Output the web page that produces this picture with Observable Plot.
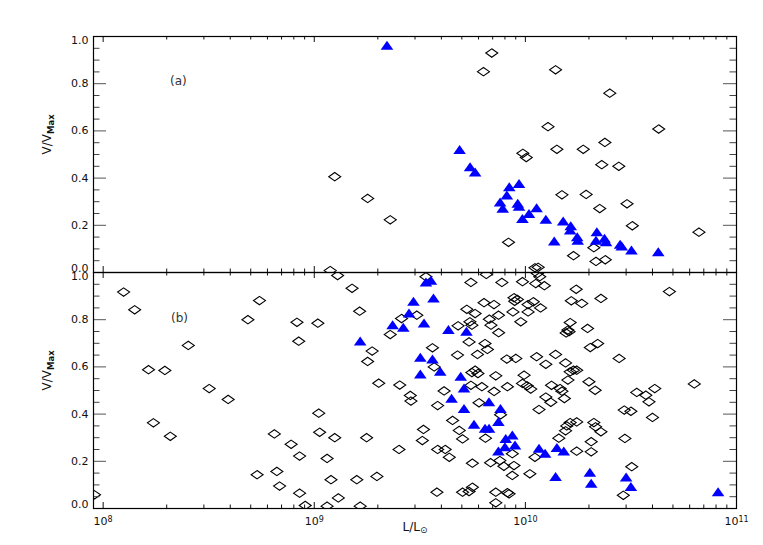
<!DOCTYPE html>
<html>
<head>
<meta charset="utf-8">
<script src="https://cdn.jsdelivr.net/npm/d3@7"></script>
<script src="https://cdn.jsdelivr.net/npm/@observablehq/plot@0.6"></script>
<style>
  html, body { margin: 0; padding: 0; background: #fff; }
  #chart { width: 763px; height: 545px; }
</style>
</head>
<body>
<div id="chart"></div>
<script>
// ---------- DATA ----------
const panels = ["a", "b"];
const panelLabelText = ["(a)", "(b)"];
const panelLabelL = [2.27e8, 2.30e8];
const panelLabelV = [0.81, 0.805];

// Panel (a): open diamonds
const aDiamondL = [1.25e9, 1.79e9, 2.29e9, 1.19e9, 6.93e9, 6.33e9, 8.32e9, 1.39e10, 2.51e10, 1.28e10,
  4.28e10, 2.38e10, 1.41e10, 1.88e10, 9.73e9, 1.01e10, 2.30e10, 2.77e10, 1.49e10, 1.94e10,
  3.03e10, 2.25e10, 3.21e10, 6.64e10, 2.11e10, 1.69e10, 2.16e10, 2.39e10, 1.11e10, 1.15e10];
const aDiamondV = [0.406, 0.314, 0.223, 0.008, 0.930, 0.851, 0.128, 0.859, 0.760, 0.618,
  0.608, 0.551, 0.522, 0.522, 0.505, 0.487, 0.457, 0.450, 0.329, 0.331,
  0.291, 0.271, 0.198, 0.171, 0.105, 0.071, 0.047, 0.054, 0.020, 0.022];

// Panel (a): filled triangles
const aTriangleL = [2.21e9, 4.88e9, 5.47e9, 5.78e9, 8.39e9, 9.33e9, 8.17e9, 7.59e9, 7.81e9, 9.20e9,
  9.33e9, 1.04e10, 9.68e9, 1.13e10, 1.25e10, 1.51e10, 1.64e10, 1.63e10, 1.76e10, 1.77e10,
  1.37e10, 2.18e10, 2.16e10, 2.37e10, 2.41e10, 2.81e10, 2.86e10, 3.18e10, 4.26e10];
const aTriangleV = [0.961, 0.519, 0.446, 0.424, 0.361, 0.375, 0.326, 0.297, 0.270, 0.291,
  0.279, 0.248, 0.227, 0.272, 0.223, 0.216, 0.196, 0.178, 0.149, 0.135,
  0.131, 0.171, 0.135, 0.143, 0.128, 0.118, 0.110, 0.093, 0.086];

// Panel (b): open diamonds
const bDiamondL = [
  9.1e7, 1.25e8, 1.41e8, 1.64e8, 1.96e8, 2.53e8, 3.18e8, 3.91e8, 1.73e8, 2.08e8,
  4.85e8, 5.50e8, 5.36e8, 6.47e8, 6.65e8, 6.85e8, 7.77e8, 8.52e8, 8.52e8, 8.28e8,
  8.44e8, 9.06e8, 1.04e9, 1.05e9, 1.06e9, 1.15e9, 1.15e9, 1.20e9, 1.25e9, 1.29e9,
  1.30e9, 1.51e9, 1.59e9, 1.64e9, 1.65e9, 1.77e9, 1.79e9, 1.88e9, 1.98e9, 2.02e9,
  3.38e9, 2.59e9, 3.06e9, 2.29e9, 4.80e9, 3.63e9, 4.77e9, 3.70e9, 2.54e9, 4.12e9,
  2.85e9, 2.87e9, 3.84e9, 4.52e9, 4.86e9, 5.04e9, 3.29e9, 3.25e9, 2.52e9, 3.84e9,
  4.17e9, 4.36e9, 3.81e9, 5.04e9,
  5.52e9, 7.74e9, 9.69e9, 1.12e10, 1.23e10, 1.14e10, 1.17e10, 6.53e9, 6.37e9, 7.10e9,
  8.83e9, 9.16e9, 8.90e9, 1.09e10, 1.03e10, 1.18e10, 5.28e9, 5.78e9, 7.46e9, 8.73e9,
  1.03e10, 5.46e9, 5.58e9, 6.75e9, 6.87e9, 7.47e9, 9.51e9, 5.41e9, 6.44e9, 5.93e9,
  6.61e9, 8.17e9, 9.01e9, 1.13e10, 1.25e10, 1.39e10, 5.78e9, 5.96e9, 5.58e9, 7.24e9,
  9.86e9, 5.52e9, 6.22e9, 8.22e9, 9.69e9, 1.02e10, 1.06e10, 1.33e10, 7.11e9, 1.25e10,
  1.32e10, 1.16e10, 6.03e9, 7.63e9, 6.47e9, 5.61e9, 6.84e9, 7.57e9, 8.67e9, 8.83e9,
  7.91e9, 8.67e9, 1.05e10, 1.11e10, 1.44e10, 5.61e9, 5.41e9, 7.24e9, 8.22e9, 8.37e9,
  7.24e9,
  1.74e10, 1.65e10, 1.85e10, 2.28e10, 1.63e10, 1.59e10, 1.56e10, 1.61e10, 1.97e10, 2.03e10,
  2.20e10, 2.78e10, 1.55e10, 1.69e10, 1.75e10, 1.63e10, 1.59e10, 2.00e10, 2.14e10, 1.46e10,
  1.49e10, 1.53e10, 3.37e10, 3.72e10, 4.10e10, 3.85e10, 2.94e10, 3.16e10, 4.00e10, 1.63e10,
  1.57e10, 1.75e10, 1.55e10, 2.11e10, 2.15e10, 2.28e10, 2.96e10, 1.75e10, 2.05e10, 2.05e10,
  3.19e10, 2.91e10, 4.81e10, 6.31e10];
const bDiamondV = [
  0.058, 0.917, 0.842, 0.588, 0.585, 0.691, 0.508, 0.462, 0.363, 0.306,
  0.800, 0.881, 0.143, 0.316, 0.157, 0.095, 0.272, 0.222, 0.065, 0.789,
  0.709, 0.013, 0.785, 0.404, 0.323, 0.212, 0.010, 0.122, 0.300, 0.987,
  0.045, 0.933, 0.122, 0.836, 0.010, 0.300, 0.623, 0.667, 0.136, 0.531,
  0.982, 0.805, 0.819, 0.737, 0.774, 0.681, 0.650, 0.600, 0.523, 0.498,
  0.479, 0.455, 0.436, 0.373, 0.331, 0.295, 0.335, 0.288, 0.250, 0.250,
  0.250, 0.217, 0.069, 0.069,
  0.958, 0.958, 0.961, 0.953, 0.944, 0.996, 0.982, 0.992, 0.872, 0.864,
  0.893, 0.886, 0.878, 0.876, 0.864, 0.850, 0.844, 0.826, 0.819, 0.833,
  0.833, 0.791, 0.777, 0.802, 0.777, 0.745, 0.791, 0.706, 0.699, 0.653,
  0.674, 0.633, 0.636, 0.643, 0.611, 0.653, 0.586, 0.572, 0.576, 0.562,
  0.565, 0.522, 0.516, 0.516, 0.530, 0.520, 0.506, 0.522, 0.496, 0.472,
  0.450, 0.419, 0.448, 0.397, 0.298, 0.192, 0.194, 0.203, 0.232, 0.182,
  0.179, 0.140, 0.147, 0.217, 0.298, 0.090, 0.072, 0.069, 0.067, 0.062,
  0.024,
  0.929, 0.880, 0.869, 0.890, 0.788, 0.756, 0.744, 0.749, 0.763, 0.682,
  0.699, 0.636, 0.617, 0.586, 0.586, 0.579, 0.544, 0.537, 0.501, 0.508,
  0.497, 0.466, 0.492, 0.480, 0.508, 0.452, 0.417, 0.412, 0.386, 0.364,
  0.350, 0.367, 0.329, 0.364, 0.346, 0.325, 0.297, 0.243, 0.283, 0.240,
  0.177, 0.056, 0.919, 0.528];

// Panel (b): filled triangles
const bTriangleL = [1.65e9,
  3.38e9, 3.57e9, 2.95e9, 3.67e9, 2.81e9, 2.35e9, 2.64e9, 3.31e9, 4.32e9, 5.26e9,
  3.18e9, 3.63e9, 3.18e9, 3.95e9, 4.94e9, 5.12e9, 4.47e9, 5.12e9,
  6.72e9, 7.62e9, 5.71e9, 6.44e9, 6.73e9, 7.45e9, 8.07e9, 8.67e9, 8.93e9, 8.00e9,
  7.45e9, 1.16e10, 1.24e10, 1.41e10, 1.52e10, 1.39e10,
  2.02e10, 2.05e10, 3.00e10, 3.16e10, 8.18e10];
const bTriangleV = [0.708,
  0.958, 0.965, 0.876, 0.890, 0.826, 0.777, 0.766, 0.784, 0.756, 0.749,
  0.639, 0.631, 0.568, 0.579, 0.558, 0.508, 0.465, 0.422,
  0.450, 0.422, 0.355, 0.338, 0.338, 0.366, 0.295, 0.309, 0.267, 0.260,
  0.242, 0.253, 0.232, 0.256, 0.242, 0.133,
  0.152, 0.105, 0.131, 0.091, 0.069];

// Axes
const xDomain = [9e7, 1e11];
const xMajor = [1e8, 1e9, 1e10, 1e11];
const xMinor = [2e8, 3e8, 4e8, 5e8, 6e8, 7e8, 8e8, 9e8,
  2e9, 3e9, 4e9, 5e9, 6e9, 7e9, 8e9, 9e9,
  2e10, 3e10, 4e10, 5e10, 6e10, 7e10, 8e10, 9e10];
const yMajorInner = [0.2, 0.4, 0.6, 0.8];
const yMajor = [0, 0.2, 0.4, 0.6, 0.8, 1.0];
const yMinor = [0.05, 0.1, 0.15, 0.25, 0.3, 0.35, 0.45, 0.5, 0.55, 0.65, 0.7, 0.75, 0.85, 0.9, 0.95];
const yTitle = "V/VMax";
const xTitle = "L/L⊙";

// ---------- BUILD ----------
const points = [];
function addSeries(panel, kind, Ls, Vs) {
  Ls.forEach((L, i) => points.push({panel, kind, L, v: Vs[i]}));
}
addSeries("a", "diamond", aDiamondL, aDiamondV);
addSeries("a", "triangle", aTriangleL, aTriangleV);
addSeries("b", "diamond", bDiamondL, bDiamondV);
addSeries("b", "triangle", bTriangleL, bTriangleV);

const panelLabels = panels.map((p, i) => ({panel: p, L: panelLabelL[i], v: panelLabelV[i], text: panelLabelText[i]}));
const xTitleRows = [{panel: "b", text: xTitle}];

const diamondSym = {draw(ctx) { ctx.moveTo(0, -4.2); ctx.lineTo(6, 0); ctx.lineTo(0, 4.2); ctx.lineTo(-6, 0); ctx.closePath(); }};
const triangleSym = {draw(ctx) { ctx.moveTo(0, -5); ctx.lineTo(6.3, 4); ctx.lineTo(-6.3, 4); ctx.closePath(); }};

const W = 763, H = 545;
const mTop = 36, mBottom = 37, mLeft = 93, mRight = 27;
const facetH = (H - mTop - mBottom) / 2;
const frameW = W - mLeft - mRight;
const fmt = d3.format(".1f");
const ink = "#111";
const yLab = {label: null, tickSize: 0, tickPadding: 5, tickFormat: fmt, fontSize: 11, letterSpacing: 0.8};

const chart = Plot.plot({
  width: W, height: H,
  marginTop: mTop, marginBottom: mBottom, marginLeft: mLeft, marginRight: mRight,
  style: {fontFamily: "'DejaVu Sans', sans-serif", fontSize: "11px", color: ink, background: "#fff", overflow: "visible"},
  x: {type: "log", domain: xDomain, axis: null},
  y: {domain: [0, 1], axis: null},
  fy: {domain: panels, padding: 0, axis: null},
  marks: [
    Plot.dot(points, {filter: d => d.kind === "diamond", x: "L", y: "v", fy: "panel", symbol: diamondSym, r: 5, stroke: "#000", strokeWidth: 1.1, fill: "none", clip: true}),
    Plot.dot(points, {filter: d => d.kind === "triangle", x: "L", y: "v", fy: "panel", symbol: triangleSym, r: 5, fill: "#0000ff", stroke: "none", clip: true}),
    Plot.tickX(xMajor, {x: d => d, insetTop: facetH - 6, stroke: ink}),
    Plot.tickX(xMajor, {x: d => d, insetBottom: facetH - 6, stroke: ink}),
    Plot.tickX(xMinor, {x: d => d, insetTop: facetH - 3.5, stroke: ink}),
    Plot.tickX(xMinor, {x: d => d, insetBottom: facetH - 3.5, stroke: ink}),
    Plot.tickY(yMajor, {y: d => d, insetRight: frameW - 13, stroke: "#555"}),
    Plot.tickY(yMajor, {y: d => d, insetLeft: frameW - 13, stroke: "#555"}),
    Plot.tickY(yMinor, {y: d => d, insetRight: frameW - 6.5, stroke: "#444"}),
    Plot.tickY(yMinor, {y: d => d, insetLeft: frameW - 6.5, stroke: "#444"}),
    Plot.frame({stroke: "#000", strokeWidth: 1.2}),
    Plot.axisY(yMajorInner, {...yLab}),
    Plot.axisY([1], {...yLab, dy: 4}),
    Plot.axisY([0], {...yLab, dy: -4}),
    Plot.axisX(xMajor, {anchor: "bottom", label: null, tickSize: 0, tickPadding: 9, fontSize: 11,
      tickFormat: d => "10^" + Math.round(Math.log10(d))}),
    Plot.text(panelLabels, {x: "L", y: "v", fy: "panel", text: "text", fontSize: 12, fill: "#333"}),
    Plot.text([yTitle], {frameAnchor: "left", rotate: -90, dx: -46, text: d => d, fontSize: 12}),
    Plot.text(xTitleRows, {fy: "panel", frameAnchor: "bottom", dy: 22, text: "text", fontSize: 12})
  ]
});

// Sub/superscripts as real text spans
d3.select(chart).selectAll("text").each(function () {
  const s = this.textContent;
  const el = d3.select(this);
  let m;
  if ((m = /^10\^(\d+)$/.exec(s))) {
    el.text(null);
    el.append("tspan").text("10");
    el.append("tspan").attr("dy", "-0.45em").attr("font-size", "8px").text(m[1]);
  } else if (s === yTitle) {
    el.text(null);
    el.append("tspan").text("V/V");
    el.append("tspan").attr("dy", "0.3em").attr("font-size", "8.5px").attr("font-weight", "bold").text("Max");
  } else if (s === xTitle) {
    el.text(null);
    el.append("tspan").text("L/L");
    el.append("tspan").attr("dy", "0.3em").attr("font-size", "9px").text("⊙");
  }
});

document.getElementById("chart").appendChild(chart);
</script>
</body>
</html>
